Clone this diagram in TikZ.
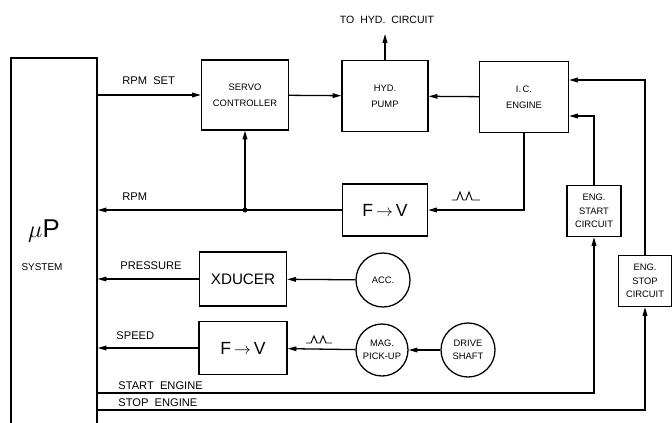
\documentclass[tikz,border=0pt]{standalone}
\usepackage{fontspec}
\setmainfont{Liberation Sans}
\usetikzlibrary{arrows.meta,calc}

\begin{document}
\begin{tikzpicture}[
    x=0.03cm, y=-0.03cm,
    every node/.style={font=\fontsize{8}{9.5}\selectfont},
    block/.style={
        draw,
        line width=1.1pt,
        inner sep=0pt,
        align=center
    },
    circ/.style={
        draw,
        circle,
        line width=1.1pt,
        inner sep=0pt,
        align=center
    },
    lbl/.style={font=\fontsize{9.5}{10}\selectfont, anchor=south west, inner sep=1pt},
    arrow/.style={-{Triangle[length=7.5pt,width=4pt]}, line width=1.1pt}
]
\useasboundingbox (0,0) rectangle (672,423);

% Microprocessor
\node[block, minimum width=86*0.03cm, minimum height=390*0.03cm] (up) at (54,253) {};
\node (mu) at (44,231) {\fontsize{22}{24}\selectfont $\mu$P};
\node (sys) at (42,267) {\fontsize{8.5}{10}\selectfont SYSTEM};

% Top row
\node[block, minimum width=87*0.03cm, minimum height=70*0.03cm] (servo) at (245,95) {SERVO\\[4pt]CONTROLLER};
\node[block, minimum width=86*0.03cm, minimum height=71*0.03cm] (pump) at (385,96) {HYD.\\[4pt]PUMP};
\node[block, minimum width=89*0.03cm, minimum height=71*0.03cm] (engine) at (524,97) {I.\,C.\\[4pt]ENGINE};
\node[font=\fontsize{9}{10}\selectfont] (hyd) at (387,20) {TO\ \ HYD.\ \ CIRCUIT};
\coordinate (hydout) at (385,34);

% Feedback row
\node[block, minimum width=85*0.03cm, minimum height=52*0.03cm, font=\fontsize{15}{16}\selectfont] (fva) at (385,210) {F\,$\rightarrow$\,V};
\node[block, minimum width=54*0.03cm, minimum height=51*0.03cm] (start) at (594,211) {ENG.\\[2pt]START\\[2pt]CIRCUIT};
\node[block, minimum width=53*0.03cm, minimum height=51*0.03cm] (stop) at (645,281) {ENG.\\[2pt]STOP\\[2pt]CIRCUIT};

% Sensors
\node[block, minimum width=87*0.03cm, minimum height=54*0.03cm, font=\fontsize{13}{14}\selectfont] (xducer) at (243,279) {XDUCER};
\node[circ, minimum size=54*0.03cm] (acc) at (383,280) {ACC.};
\node[block, minimum width=88*0.03cm, minimum height=53*0.03cm, font=\fontsize{15}{16}\selectfont] (fvb) at (243,348) {F\,$\rightarrow$\,V};
\node[circ, minimum size=52*0.03cm] (mag) at (382,350) {MAG.\\[2pt]PICK-UP};
\node[circ, minimum size=54*0.03cm] (drive) at (468,350) {DRIVE\\[2pt]SHAFT};

% Arrows
\draw[arrow] (up.east |- servo.west) -- (servo.west);
\node[lbl] (rpmset) at (121,86) {RPM\ \ SET};
\draw[arrow] (servo) -- (pump);
\draw[arrow] (engine) -- (pump);
\draw[arrow] (pump) -- (hydout);

\draw[arrow] (engine.south) |- (fva.east);
\coordinate (jn) at (fva.west -| servo.south);
\draw[arrow] (fva.west) -- (fva.west -| up.east);
\node[lbl] (rpm) at (121,202) {RPM};
\draw[arrow] (jn) -- (servo.south);
\fill (jn) circle (2.5);

\draw[arrow] (start.north) |- ($(engine.east)+(0,19)$);
\draw[arrow] (stop.north) |- ($(engine.east)+(0,-17)$);

\draw[arrow] (acc) -- (xducer);
\draw[arrow] (xducer.west) -- (xducer.west -| up.east);
\node[lbl] (pres) at (119,271) {PRESSURE};

\draw[arrow] (drive) -- (mag);
\draw[arrow] (mag) -- (fvb);
\draw[arrow] (fvb.west) -- (fvb.west -| up.east);
\node[lbl] (speed) at (115,341) {SPEED};

\coordinate (se) at (up.east |- 0,393);
\coordinate (st) at (up.east |- 0,410);
\draw[arrow] (se) -| (start.south);
\draw[arrow] (st) -| (stop.south);
\node[lbl] (selbl) at (117,391) {START\ \ ENGINE};
\node[lbl] (stlbl) at (117,408) {STOP\ \ ENGINE};

% Pulse marks
\draw[line width=0.8pt] (452,200) -- (457,200) -- (460,192) -- (463,200) -- (466,200) -- (469,192) -- (472,200) -- (480,200);
\draw[line width=0.8pt] (306,343) -- (311,343) -- (314,336) -- (317,343) -- (320,343) -- (323,336) -- (326,343) -- (332,343);

\end{tikzpicture}
\end{document}
